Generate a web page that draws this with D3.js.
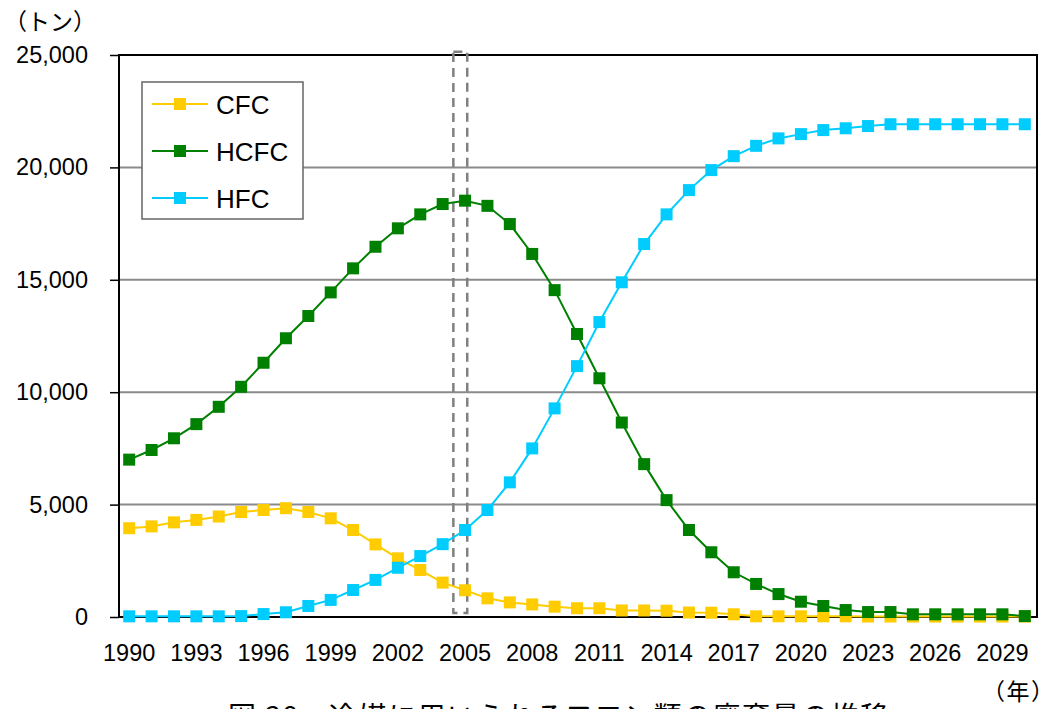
<!DOCTYPE html>
<html>
<head>
<meta charset="utf-8">
<script src="https://cdn.jsdelivr.net/npm/d3@7"></script>
<style>
  body { margin: 0; background: #fff; }
  svg { display: block; font-family: "Liberation Sans", Arial, sans-serif; }
</style>
</head>
<body>
<svg id="chart" width="1058" height="709"></svg>
<script>
const years = d3.range(1990, 2031).map(String)
const tickYears = d3.range(1990, 2030, 3).map(String)
const yTicks = [0, 5000, 10000, 15000, 20000, 25000]

const cfc = [3950, 4030, 4210, 4320, 4470, 4670, 4760, 4840, 4670, 4390,
  3870, 3230, 2610, 2090, 1530, 1190, 830, 650, 560, 460,
  390, 390, 290, 290, 280, 200, 190, 120, 30, 30,
  30, 30, 30, 20, 20, 20, 20, 20, 20, 20, 20]
const hcfc = [7000, 7430, 7950, 8580, 9350, 10240, 11310, 12400, 13390, 14440,
  15510, 16470, 17290, 17910, 18370, 18520, 18290, 17480, 16150, 14540,
  12590, 10620, 8650, 6800, 5200, 3870, 2880, 1990, 1470, 1020,
  680, 490, 310, 220, 220, 120, 120, 120, 120, 120, 40]
const hfc = [30, 30, 30, 30, 30, 40, 130, 210, 490, 760,
  1200, 1650, 2190, 2710, 3240, 3870, 4760, 5990, 7500, 9280,
  11160, 13120, 14890, 16590, 17910, 18990, 19880, 20500, 20960, 21290,
  21480, 21660, 21740, 21840, 21920, 21920, 21920, 21920, 21920, 21920, 21920]

const series = [
  { name: 'CFC', color: '#ffcc00', values: cfc },
  { name: 'HCFC', color: '#008000', values: hcfc },
  { name: 'HFC', color: '#00ccff', values: hfc },
]

const plot = { left: 119, right: 1037, top: 55, bottom: 617 }

const svg = d3.select('#chart')

const x = d3.scaleBand()
  .domain(years)
  .range([plot.left - 1, plot.right - 1])
const cx = (yr) => x(yr) + x.bandwidth() / 2

const y = d3.scaleLinear()
  .domain([0, 25000])
  .range([plot.bottom, plot.top])

// grid
svg.append('g')
  .selectAll('line')
  .data(yTicks.slice(1, -1))
  .join('line')
    .attr('x1', plot.left).attr('x2', plot.right)
    .attr('y1', (d) => y(d)).attr('y2', (d) => y(d))
    .attr('stroke', '#8a8a8a')
    .attr('stroke-width', 2)

// y axis labels + ticks
const yAxis = svg.append('g')
  .attr('transform', `translate(${plot.left},0)`)
  .call(d3.axisLeft(y).tickValues(yTicks).tickFormat(d3.format(',')).tickSize(9).tickPadding(22))
yAxis.select('.domain').remove()
yAxis.selectAll('.tick line').attr('stroke', '#000').attr('stroke-width', 1.5)
yAxis.selectAll('.tick text')
  .attr('font-size', 23.5)
  .attr('font-family', '"Liberation Sans", Arial, sans-serif')
  .attr('fill', '#000')

// x labels
const xAxis = svg.append('g')
  .attr('transform', `translate(0,${plot.bottom})`)
  .call(d3.axisBottom(x).tickValues(tickYears).tickSize(0).tickPadding(27))
xAxis.select('.domain').remove()
xAxis.selectAll('.tick text')
  .attr('font-size', 23.5)
  .attr('font-family', '"Liberation Sans", Arial, sans-serif')
  .attr('fill', '#000')

// frame
svg.append('rect')
  .attr('x', plot.left).attr('y', plot.top)
  .attr('width', plot.right - plot.left).attr('height', plot.bottom - plot.top)
  .attr('fill', 'none')
  .attr('stroke', '#000')
  .attr('stroke-width', 2)

// dashed highlight around 2005
svg.append('rect')
  .attr('x', x('2005') - 0.5)
  .attr('y', y(25150))
  .attr('width', x.bandwidth() * 0.62)
  .attr('height', y(180) - y(25150))
  .attr('fill', 'none')
  .attr('stroke', '#808080')
  .attr('stroke-width', 2.5)
  .attr('stroke-dasharray', '9,6')

// lines + markers
const line = d3.line()
  .x((d, i) => cx(years[i]))
  .y((d) => y(d))

const ms = 12
series.forEach((s) => {
  const g = svg.append('g')
  g.append('path')
    .datum(s.values)
    .attr('d', line)
    .attr('fill', 'none')
    .attr('stroke', s.color)
    .attr('stroke-width', 2)
  g.selectAll('rect')
    .data(s.values)
    .join('rect')
      .attr('x', (d, i) => cx(years[i]) - ms / 2)
      .attr('y', (d) => y(d) - ms / 2)
      .attr('width', ms).attr('height', ms)
      .attr('fill', s.color)
})

// legend
const legend = svg.append('g').attr('transform', 'translate(142,82)')
legend.append('rect')
  .attr('width', 161).attr('height', 137)
  .attr('fill', '#fff')
  .attr('stroke', '#666')
  .attr('stroke-width', 1.5)
series.forEach((s, i) => {
  const ly = 22 + i * 47
  legend.append('line')
    .attr('x1', 10).attr('x2', 66).attr('y1', ly).attr('y2', ly)
    .attr('stroke', s.color).attr('stroke-width', 2)
  legend.append('rect')
    .attr('x', 38 - ms / 2).attr('y', ly - ms / 2)
    .attr('width', ms).attr('height', ms)
    .attr('fill', s.color)
  legend.append('text')
    .attr('x', 74).attr('y', ly + 9.5)
    .attr('font-size', 26)
    .text(s.name)
})

// unit labels
svg.append('text')
  .attr('x', 4).attr('y', 30)
  .attr('font-size', 23)
  .attr('font-family', '"Noto Sans CJK JP", sans-serif')
  .attr('textLength', 92)
  .text('（トン）')
svg.append('text')
  .attr('x', 982).attr('y', 700)
  .attr('font-size', 23)
  .attr('font-family', '"Noto Sans CJK JP", sans-serif')
  .attr('textLength', 72)
  .text('（年）')

// caption (cut off at the bottom edge, as in the source)
svg.append('text')
  .attr('x', 228).attr('y', 727)
  .attr('font-size', 28)
  .attr('font-family', '"Noto Sans CJK JP", sans-serif')
  .attr('textLength', 660)
  .text('図 38　冷媒に用いられるフロン類の廃棄量の推移')
</script>
</body>
</html>
